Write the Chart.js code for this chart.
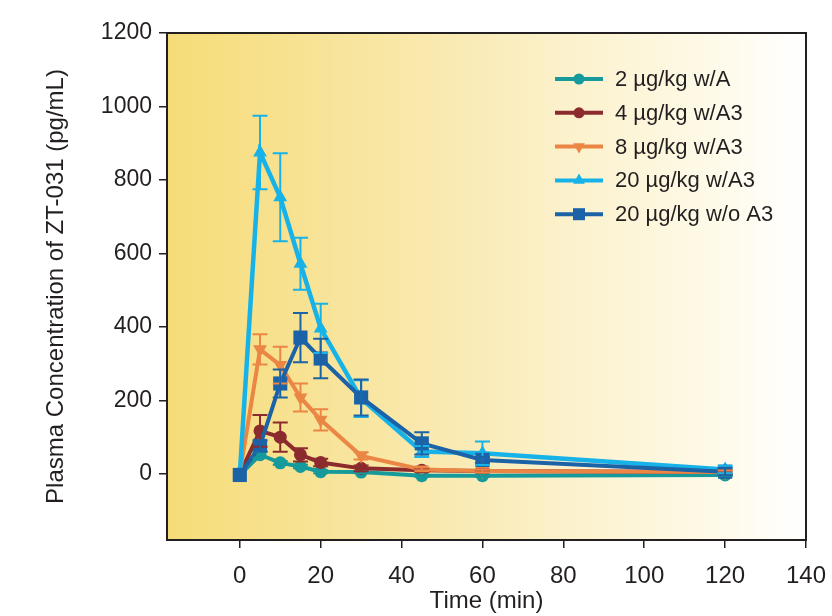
<!DOCTYPE html>
<html>
<head>
<meta charset="utf-8">
<script src="https://cdn.jsdelivr.net/npm/chart.js@4.4.1/dist/chart.umd.min.js"></script>
<style>
  html, body { margin: 0; padding: 0; background: #fff; }
  #wrap { width: 832px; height: 616px; }
</style>
</head>
<body>
<div id="wrap"><canvas id="chart" width="832" height="616"></canvas></div>
<script>
const times = [0, 5, 10, 15, 20, 30, 45, 60, 120];
const xTicks = [0, 20, 40, 60, 80, 100, 120, 140];
const yTicks = [0, 200, 400, 600, 800, 1000, 1200];

const labels = ["2 µg/kg w/A", "4 µg/kg w/A3", "8 µg/kg w/A3", "20 µg/kg w/A3", "20 µg/kg w/o A3"];
const dose2A = [-3, 52, 30, 20, 6, 5, -5, -5, -3];
const dose4A3 = [0, 117, 100, 52, 31, 15, 10, 8, 5];
const dose8A3 = [0, 339, 296, 208, 147, 49, 12, 8, 5];
const dose20A3 = [0, 875, 753, 572, 396, 205, 61, 56, 12];
const dose20noA3 = [-3, 76, 246, 371, 314, 208, 83, 38, 6];

const err2A = [0, 8, 5, 5, 4, 3, 3, 3, 3];
const err4A3 = [0, 43, 40, 18, 10, 8, 5, 4, 4];
const err8A3 = [0, 41, 50, 38, 29, 10, 5, 4, 4];
const err20A3 = [0, 100, 120, 71, 67, 50, 15, 32, 10];
const err20noA3 = [0, 15, 38, 67, 54, 49, 30, 8, 10];

const colors = ["#169a9b", "#8c2b2e", "#eb8645", "#17b2e8", "#1b62a7"];
const styles = ["circle", "circle", "triangle", "triangle", "rect"];
const rotations = [0, 0, 180, 0, 0];
const radii = [6.5, 6.5, 8, 8, 10];
const textColor = "#231f20";
const fontFamily = "'Liberation Sans', Arial, sans-serif";

const series = [dose2A, dose4A3, dose8A3, dose20A3, dose20noA3];
const errors = [err2A, err4A3, err8A3, err20A3, err20noA3];

const datasets = series.map((vals, i) => ({
  label: labels[i],
  data: vals.map((v, j) => ({ x: times[j], y: v })),
  errs: errors[i],
  borderColor: colors[i],
  backgroundColor: colors[i],
  borderWidth: i === 3 ? 4.5 : 4,
  pointStyle: styles[i],
  pointRotation: rotations[i],
  pointRadius: radii[i],
  pointBorderWidth: 0,
  tension: 0,
  order: 5 - i,
}));

// yellow-to-white gradient behind the plot
const bgPlugin = {
  id: "bg",
  beforeDatasetsDraw(chart) {
    const { ctx, chartArea: a } = chart;
    const g = ctx.createLinearGradient(a.left, 0, a.right, 0);
    g.addColorStop(0, "#f6dc78");
    g.addColorStop(0.3, "#f8e59f");
    g.addColorStop(0.6, "#fbf0c8");
    g.addColorStop(0.85, "#fefae8");
    g.addColorStop(1, "#ffffff");
    ctx.save();
    ctx.fillStyle = g;
    ctx.fillRect(a.left, a.top, a.right - a.left, a.bottom - a.top);
    ctx.restore();
  },
};

const errorBars = {
  id: "errorBars",
  afterDatasetsDraw(chart) {
    const { ctx } = chart;
    const xs = chart.scales.x, ys = chart.scales.y;
    ctx.save();
    ctx.lineWidth = 2;
    chart.data.datasets.forEach((ds) => {
      ctx.strokeStyle = ds.borderColor;
      ds.data.forEach((p, j) => {
        const e = ds.errs[j];
        if (!e) return;
        const x = xs.getPixelForValue(p.x);
        const top = ys.getPixelForValue(p.y + e);
        const bot = ys.getPixelForValue(p.y - e);
        ctx.beginPath();
        ctx.moveTo(x, top); ctx.lineTo(x, bot);
        ctx.moveTo(x - 7.5, top); ctx.lineTo(x + 7.5, top);
        ctx.moveTo(x - 7.5, bot); ctx.lineTo(x + 7.5, bot);
        ctx.stroke();
      });
    });
    ctx.restore();
  },
};

const frameLegend = {
  id: "frameLegend",
  afterDraw(chart) {
    const { ctx, chartArea: a } = chart;
    ctx.save();
    ctx.strokeStyle = textColor;
    ctx.lineWidth = 2;
    ctx.strokeRect(a.left, a.top, a.right - a.left, a.bottom - a.top);

    // legend inside the plot, top right
    const x0 = 555, x1 = 603, tx = 615;
    ctx.font = "22px " + fontFamily;
    ctx.textBaseline = "middle";
    chart.data.datasets.forEach((ds, i) => {
      const y = 79 + i * 33.8;
      ctx.strokeStyle = ds.borderColor;
      ctx.lineWidth = 4;
      ctx.beginPath();
      ctx.moveTo(x0, y); ctx.lineTo(x1, y);
      ctx.stroke();
      ctx.fillStyle = ds.backgroundColor;
      Chart.helpers.drawPoint(ctx, {
        pointStyle: ds.pointStyle,
        rotation: ds.pointRotation,
        radius: ds.pointRadius * 0.85,
        borderWidth: 0,
      }, (x0 + x1) / 2, y);
      ctx.fillStyle = textColor;
      ctx.fillText(ds.label, tx, y + 1);
    });
    ctx.restore();
  },
};

new Chart(document.getElementById("chart"), {
  type: "line",
  data: { datasets },
  options: {
    responsive: false,
    animation: false,
    layout: { padding: { top: 33, right: 26, left: 0, bottom: 0 } },
    plugins: { legend: { display: false }, tooltip: { enabled: false } },
    scales: {
      x: {
        type: "linear",
        min: -18,
        max: 140,
        afterFit(s) { s.height = 76; s.paddingLeft = 0; s.paddingRight = 0; },
        afterBuildTicks(s) { s.ticks = xTicks.map((v) => ({ value: v })); },
        grid: { drawOnChartArea: false, tickLength: 8, color: textColor, lineWidth: 1.5 },
        border: { display: false },
        ticks: {
          font: { family: fontFamily, size: 24 },
          color: textColor,
          padding: 14,
          maxRotation: 0,
          autoSkip: false,
          callback: (v) => String(v),
        },
        title: {
          display: true,
          text: "Time (min)",
          color: textColor,
          font: { family: fontFamily, size: 24 },
          padding: { top: 0, bottom: 0 },
        },
      },
      y: {
        type: "linear",
        min: -180,
        max: 1200,
        afterFit(s) { s.width = 167; s.paddingTop = 0; s.paddingBottom = 0; },
        afterBuildTicks(s) { s.ticks = yTicks.map((v) => ({ value: v })); },
        grid: { drawOnChartArea: false, tickLength: 8, color: textColor, lineWidth: 1.5 },
        border: { display: false },
        ticks: {
          font: { family: fontFamily, size: 23 },
          color: textColor,
          padding: 7,
          autoSkip: false,
          callback: (v) => String(v),
        },
        title: {
          display: true,
          text: "Plasma Concentration of ZT-031 (pg/mL)",
          color: textColor,
          font: { family: fontFamily, size: 24 },
          padding: { top: 42, bottom: 0 },
        },
      },
    },
  },
  plugins: [bgPlugin, errorBars, frameLegend],
});
</script>
</body>
</html>
